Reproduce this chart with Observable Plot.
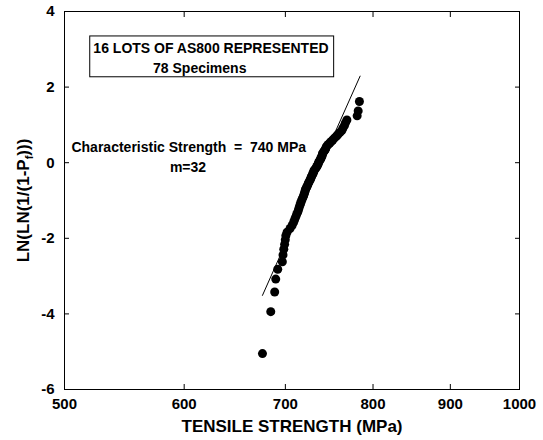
<!DOCTYPE html>
<html><head><meta charset="utf-8">
<script src="https://cdn.jsdelivr.net/npm/d3@7"></script>
<script src="https://cdn.jsdelivr.net/npm/@observablehq/plot@0.6"></script>
<style>body{margin:0;background:#fff} #chart svg{display:block}</style>
</head><body><div id="chart"></div>
<script>
// Weibull plot data (tensile strength in MPa, ln(ln(1/(1-Pf))))
const strength = [676, 684.6, 688.7, 689.8, 691.9, 696.8, 697.5, 698.3, 699.2, 699.9,
  700.5, 701.8, 705.0, 707.2, 708.8, 709.9, 711.0, 712.1, 713.2, 714.1,
  714.8, 715.6, 716.4, 717.0, 717.9, 718.7, 719.7, 720.3, 720.9, 721.4,
  721.9, 722.8, 723.6, 724.4, 725.0, 725.8, 726.9, 727.5, 728.0, 728.8,
  729.5, 730.3, 730.8, 731.4, 732.5, 733.6, 734.4, 735.3, 735.9, 736.4,
  737.2, 738.1, 738.9, 739.6, 740.2, 740.6, 741.0, 742.1, 743.3, 744.2,
  744.7, 745.5, 747.3, 749.0, 750.7, 752.4, 754.2, 756.5, 758.2, 760.6,
  762.9, 764.1, 765.8, 767.0, 768.8, 780.9, 782.1, 783.6];
const lnln = [-5.05, -3.94, -3.42, -3.08, -2.82, -2.62, -2.44, -2.29, -2.16, -2.04,
  -1.93, -1.84, -1.74, -1.66, -1.58, -1.51, -1.44, -1.37, -1.31, -1.25,
  -1.19, -1.13, -1.08, -1.03, -0.98, -0.93, -0.88, -0.83, -0.79, -0.74,
  -0.70, -0.66, -0.62, -0.58, -0.54, -0.50, -0.46, -0.42, -0.39, -0.35,
  -0.31, -0.28, -0.24, -0.20, -0.17, -0.13, -0.10, -0.06, -0.03, 0.01,
  0.04, 0.08, 0.11, 0.15, 0.18, 0.22, 0.25, 0.29, 0.33, 0.36,
  0.40, 0.44, 0.48, 0.52, 0.56, 0.60, 0.65, 0.70, 0.74, 0.80,
  0.85, 0.91, 0.98, 1.05, 1.13, 1.24, 1.37, 1.62];
const fitX = [676, 784.4];
const fitY = [-3.51, 2.29];
const xTicks = [500, 600, 700, 800, 900, 1000];
const yTicks = [-6, -4, -2, 0, 2, 4];
const boxLine1 = "16 LOTS OF AS800 REPRESENTED";
const boxLine2 = "78 Specimens";
const noteLine1 = "Characteristic Strength\u00a0 =\u00a0 740 MPa";
const noteLine2 = "m=32";
const xTitle = "TENSILE STRENGTH (MPa)";
const yTitleMain = "LN(LN(1/(1-P";
const yTitleSub = "f";
const yTitleEnd = ")))";

const points = strength.map((s, i) => ({s, v: lnln[i]}));
const fit = fitX.map((s, i) => ({s, v: fitY[i]}));

const svg = Plot.plot({
  width: 543,
  height: 440,
  marginLeft: 64,
  marginRight: 24,
  marginTop: 11,
  marginBottom: 51,
  style: {fontFamily: "'Liberation Sans', Arial, sans-serif", fontWeight: "bold", color: "black", background: "white"},
  x: {type: "log", domain: [500, 1000]},
  y: {domain: [-6, 4]},
  marks: [
    Plot.rect([0], {x1: 520, x2: 754, y1: 2.26, y2: 3.34, fill: "white", stroke: "black", strokeWidth: 1}),
    Plot.text([boxLine1], {x: 625, y: 3.03, text: d => d, fontSize: 14, fill: "black"}),
    Plot.text([boxLine2], {x: 614.4, y: 2.50, text: d => d, fontSize: 14, fill: "black"}),
    Plot.text([noteLine1], {x: 604.2, y: 0.414, text: d => d, fontSize: 14, fill: "black"}),
    Plot.text([noteLine2], {x: 603.5, y: -0.14, text: d => d, fontSize: 14, fill: "black"}),
    Plot.line(fit, {x: "s", y: "v", stroke: "black", strokeWidth: 1}),
    Plot.dot(points, {x: "s", y: "v", r: 4.5, fill: "black", stroke: "none"}),
    Plot.frame({stroke: "black", strokeWidth: 1}),
    Plot.axisX({ticks: xTicks, tickSize: -5, tickPadding: 14, tickFormat: d => String(d), fontSize: 15, label: null}),
    Plot.axisX({anchor: "top", ticks: xTicks, tickSize: -5, tickFormat: () => "", label: null}),
    Plot.axisY({ticks: yTicks, tickSize: -5, tickPadding: 15, tickFormat: d => String(d), fontSize: 15, label: null}),
    Plot.axisY({anchor: "right", ticks: yTicks, tickSize: -5, tickFormat: () => "", label: null}),
    Plot.text([xTitle], {frameAnchor: "bottom", textAnchor: "middle", lineAnchor: "middle", dy: 37, text: d => d, fontSize: 17, fill: "black"}),
    Plot.text([yTitleMain], {frameAnchor: "left", textAnchor: "middle", lineAnchor: "middle", dx: -40.5, rotate: -90, text: d => d, fontSize: 17, fill: "black"})
  ]
});
document.getElementById("chart").appendChild(svg);

// add subscript f to the y title
const yt = Array.from(svg.querySelectorAll("text")).find(e => e.textContent === yTitleMain);
if (yt) {
  const t = d3.select(yt);
  t.text(null);
  t.append("tspan").text(yTitleMain);
  t.append("tspan").attr("font-size", 11).attr("dy", 4).text(yTitleSub);
  t.append("tspan").attr("dy", -4).text(yTitleEnd);
}
</script></body></html>
